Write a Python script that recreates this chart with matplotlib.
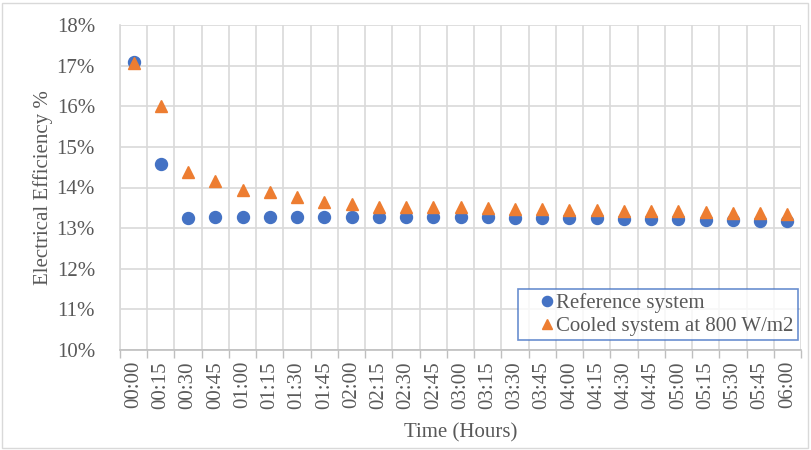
import numpy as np
import matplotlib.pyplot as plt
from matplotlib.patches import Rectangle

times = ['00:00', '00:15', '00:30', '00:45', '01:00', '01:15', '01:30', '01:45',
         '02:00', '02:15', '02:30', '02:45', '03:00', '03:15', '03:30', '03:45',
         '04:00', '04:15', '04:30', '04:45', '05:00', '05:15', '05:30', '05:45', '06:00']
reference = [17.08, 14.59, 13.25, 13.28, 13.28, 13.28, 13.28, 13.28, 13.28, 13.27,
             13.27, 13.27, 13.27, 13.27, 13.25, 13.25, 13.24, 13.24, 13.23, 13.23,
             13.22, 13.20, 13.19, 13.18, 13.18]
cooled = [17.06, 16.01, 14.38, 14.17, 13.95, 13.88, 13.77, 13.64, 13.59, 13.52,
          13.51, 13.51, 13.51, 13.50, 13.48, 13.46, 13.45, 13.44, 13.43, 13.42,
          13.41, 13.39, 13.38, 13.37, 13.36]
yticks = [10, 11, 12, 13, 14, 15, 16, 17, 18]

plt.rcParams['font.family'] = ['Liberation Serif', 'DejaVu Serif']
grey = '#595959'
gridc = '#D9D9D9'
fs = 15

fig = plt.figure(figsize=(8.11, 4.5), dpi=100)
ax = fig.add_axes([120/811, 1-350/450, 681/811, 325/450])

x = np.arange(len(times))
ax.plot(x, reference, 'o', color='#4472C4', markersize=8.6, label='Reference system', zorder=3)
ax.plot(x, cooled, '^', color='#ED7D31', markersize=9, label='Cooled system at 800 W/m2', zorder=4)

ax.set_xlim(-0.5, len(times) - 0.5)
ax.set_ylim(10, 18)
ax.set_yticks(yticks)
ax.set_yticklabels([str(v) + '%' for v in yticks])
ax.set_xticks(x)
ax.set_xticklabels(times, rotation=90)
ax.set_xticks(np.arange(len(times) + 1) - 0.5, minor=True)

ax.grid(True, which='major', axis='y', color=gridc, linewidth=1.2)
ax.grid(True, which='minor', axis='x', color=gridc, linewidth=1.2)
ax.set_axisbelow(True)
ax.tick_params(axis='x', which='major', length=0, labelsize=fs, colors=grey, pad=8)
ax.tick_params(axis='x', which='minor', length=6, color='#BFBFBF', width=1)
ax.tick_params(axis='y', length=0, labelsize=fs, colors=grey, pad=18)
for s in ['top', 'right']:
    ax.spines[s].set_visible(False)
ax.spines['left'].set_color(gridc)
ax.spines['bottom'].set_color('#BFBFBF')
ax.spines['left'].set_linewidth(1.2)
ax.spines['bottom'].set_linewidth(1.2)

ax.set_ylabel('Electrical Efficiency %', fontsize=fs, color=grey)
ax.yaxis.set_label_coords(-0.098, 0.5)
ax.set_xlabel('Time (Hours)', fontsize=fs, color=grey, labelpad=10)

leg = ax.legend(loc='lower right', bbox_to_anchor=(0.995, 0.03), fontsize=fs,
                frameon=True, fancybox=False, handlelength=2.4, handletextpad=-0.75,
                borderpad=0.2, labelspacing=0.15, borderaxespad=0, markerscale=0.85)
leg.get_frame().set_edgecolor('#4472C4')
leg.get_frame().set_linewidth(1.2)
for t in leg.get_texts():
    t.set_color(grey)

fig.patches.append(Rectangle((0.002, 0.004), 0.994, 0.99, transform=fig.transFigure,
                             fill=False, edgecolor=gridc, linewidth=1))

fig.savefig('out.png', dpi=100)
